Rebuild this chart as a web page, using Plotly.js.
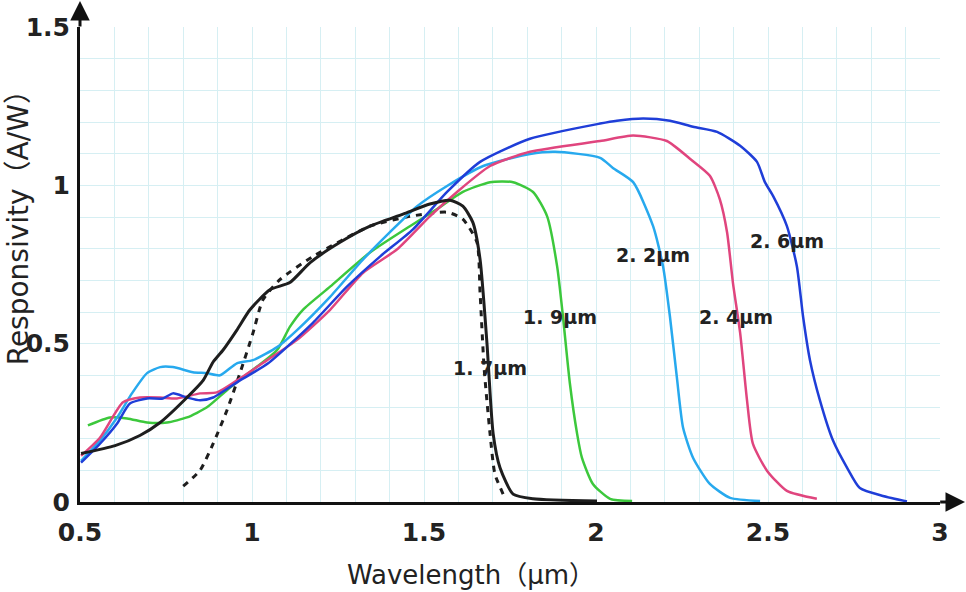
<!DOCTYPE html>
<html>
<head>
<meta charset="utf-8">
<script src="https://cdn.plot.ly/plotly-3.0.1.min.js"></script>
<style>
  html, body { margin: 0; padding: 0; background: #fff; }
  #chart { width: 966px; height: 592px; }
</style>
</head>
<body>
<div id="chart"></div>
<script>
// wavelength (um) / responsivity (A/W)

// 1.7 um cutoff, solid
const x17 = [0.503, 0.602, 0.674, 0.733, 0.811, 0.858, 0.887, 0.916, 0.956, 0.994,
             1.052, 1.110, 1.169, 1.256, 1.343, 1.439, 1.517, 1.576, 1.613, 1.642,
             1.663, 1.683, 1.701, 1.721, 1.759, 1.817, 2.003];
const y17 = [0.153, 0.178, 0.210, 0.251, 0.330, 0.384, 0.442, 0.480, 0.543, 0.607,
             0.670, 0.693, 0.756, 0.820, 0.871, 0.909, 0.941, 0.953, 0.934, 0.883,
             0.766, 0.502, 0.216, 0.108, 0.025, 0.010, 0.003];

// 1.7 um, dotted
const x17d = [0.800, 0.849, 0.887, 0.927, 0.965, 1.003, 1.032, 1.081, 1.177, 1.343,
              1.459, 1.567, 1.613, 1.654, 1.663, 1.675, 1.692, 1.706, 1.730];
const y17d = [0.050, 0.100, 0.184, 0.289, 0.407, 0.534, 0.639, 0.702, 0.775, 0.871,
              0.902, 0.915, 0.893, 0.820, 0.661, 0.420, 0.216, 0.089, 0.025];

// 1.9 um
const x19 = [0.523, 0.587, 0.637, 0.695, 0.753, 0.811, 0.869, 0.927, 0.974, 1.073,
             1.110, 1.148, 1.227, 1.343, 1.459, 1.538, 1.613, 1.692, 1.759, 1.817,
             1.858, 1.887, 1.904, 1.924, 1.945, 1.959, 1.991, 2.041, 2.105];
const y19 = [0.242, 0.267, 0.264, 0.251, 0.251, 0.267, 0.299, 0.353, 0.394, 0.480,
             0.553, 0.607, 0.680, 0.788, 0.871, 0.925, 0.979, 1.010, 1.010, 0.979,
             0.902, 0.744, 0.585, 0.375, 0.216, 0.140, 0.057, 0.010, 0.003];

// 2.2 um
const x22 = [0.503, 0.558, 0.608, 0.651, 0.695, 0.733, 0.770, 0.828, 0.869, 0.907,
             0.956, 1.003, 1.073, 1.131, 1.227, 1.323, 1.401, 1.480, 1.567, 1.672,
             1.808, 1.881, 2.012, 2.049, 2.108, 2.166, 2.195, 2.215, 2.235, 2.253,
             2.282, 2.331, 2.390, 2.477];
const y22 = [0.130, 0.194, 0.267, 0.343, 0.407, 0.426, 0.426, 0.410, 0.407, 0.400,
             0.438, 0.448, 0.489, 0.543, 0.648, 0.766, 0.852, 0.934, 0.998, 1.061,
             1.099, 1.106, 1.087, 1.055, 1.010, 0.871, 0.744, 0.585, 0.394, 0.235,
             0.140, 0.057, 0.013, 0.003];

// 2.4 um
const x24 = [0.503, 0.558, 0.625, 0.674, 0.733, 0.782, 0.849, 0.898, 0.956, 1.044,
             1.131, 1.227, 1.323, 1.422, 1.517, 1.596, 1.692, 1.808, 2.012, 2.108,
             2.206, 2.273, 2.331, 2.360, 2.381, 2.398, 2.419, 2.439, 2.456, 2.497,
             2.555, 2.642];
const y24 = [0.146, 0.203, 0.315, 0.330, 0.330, 0.327, 0.343, 0.346, 0.384, 0.448,
             0.512, 0.607, 0.724, 0.798, 0.902, 0.979, 1.061, 1.106, 1.140, 1.157,
             1.140, 1.084, 1.030, 0.956, 0.852, 0.693, 0.534, 0.321, 0.184, 0.099,
             0.035, 0.010];

// 2.6 um
const x26 = [0.503, 0.558, 0.608, 0.645, 0.695, 0.741, 0.770, 0.811, 0.849, 0.887,
             0.965, 1.046, 1.177, 1.276, 1.372, 1.468, 1.567, 1.663, 1.808, 2.012,
             2.061, 2.137, 2.215, 2.282, 2.352, 2.419, 2.468, 2.491, 2.515, 2.555,
             2.584, 2.602, 2.622, 2.651, 2.689, 2.730, 2.767, 2.834, 2.904];
const y26 = [0.124, 0.184, 0.248, 0.311, 0.327, 0.327, 0.343, 0.330, 0.321, 0.330,
             0.384, 0.437, 0.566, 0.680, 0.775, 0.861, 0.979, 1.074, 1.147, 1.195,
             1.204, 1.211, 1.204, 1.185, 1.169, 1.125, 1.074, 1.010, 0.966, 0.871,
             0.744, 0.585, 0.448, 0.321, 0.194, 0.108, 0.044, 0.019, 0.002];

const xTicks = [0.5, 1, 1.5, 2, 2.5, 3];
const xTickText = ["0.5", "1", "1.5", "2", "2.5", "3"];
const yTicks = [0, 0.5, 1, 1.5];
const yTickText = ["0", "0.5", "1", "1.5"];

const cutoffLabels = ["1. 7μm", "1. 9μm", "2. 2μm", "2. 4μm", "2. 6μm"];
const xTitle = "Wavelength（μm）";
const yTitle = "Responsivity（A/W）";

const sans = "DejaVu Sans, Noto Sans CJK SC, sans-serif";
const gridCol = "#d6eff3";
const ink = "#1e1e1e";

function curve(x, y, color, width, dash) {
    return {
        x: x,
        y: y,
        mode: "lines",
        line: {
            color: color,
            width: width,
            dash: dash || "solid",
            shape: "spline",
            smoothing: 0.6
        },
        hoverinfo: "skip",
        showlegend: false
    };
}

const traces = [
    curve(x17d, y17d, ink, 3, "6px,6px"),
    curve(x19, y19, "#3cc83c", 2.5),
    curve(x22, y22, "#27a9ee", 2.5),
    curve(x24, y24, "#e0457e", 2.5),
    curve(x26, y26, "#1f3ed8", 2.5),
    curve(x17, y17, ink, 3)
];

// label spots for the cutoff wavelengths
const labelPos = [
    [1.692, 0.423],
    [1.895, 0.583],
    [2.167, 0.779],
    [2.407, 0.583],
    [2.555, 0.823]
];

const annotations = cutoffLabels.map((t, i) => ({
    x: labelPos[i][0],
    y: labelPos[i][1],
    xref: "x",
    yref: "y",
    text: t,
    showarrow: false,
    font: { family: sans, size: 19, color: "#222", weight: "bold" }
}));

// axis titles, placed by hand like the original
annotations.push({
    x: 0.455, y: -0.154, xref: "paper", yref: "paper",
    text: xTitle, showarrow: false,
    xanchor: "center", yanchor: "middle",
    font: { family: sans, size: 26, color: "#222" }
});
annotations.push({
    x: -0.0715, y: 0.592, xref: "paper", yref: "paper",
    text: yTitle, showarrow: false, textangle: -90,
    xanchor: "center", yanchor: "middle",
    font: { family: sans, size: 28, color: "#222" }
});

// axis arrows
annotations.push({
    x: 1.031, y: 0, xref: "paper", yref: "paper",
    ax: -28, ay: 0, axref: "pixel", ayref: "pixel",
    showarrow: true, arrowhead: 2, arrowsize: 1.3, arrowwidth: 3,
    arrowcolor: "#111", text: ""
});
annotations.push({
    x: 0, y: 1.057, xref: "paper", yref: "paper",
    ax: 0, ay: 28, axref: "pixel", ayref: "pixel",
    showarrow: true, arrowhead: 2, arrowsize: 1.3, arrowwidth: 3,
    arrowcolor: "#111", text: ""
});

const tickFont = { family: "DejaVu Sans, sans-serif", size: 25, color: "#222", weight: "bold" };

const layout = {
    width: 966,
    height: 592,
    margin: { l: 80, r: 26, t: 27, b: 90, pad: 0 },
    paper_bgcolor: "#fff",
    plot_bgcolor: "#fff",
    showlegend: false,
    xaxis: {
        range: [0.5, 3],
        tickmode: "array",
        tickvals: xTicks,
        ticktext: xTickText,
        ticks: "",
        showline: true,
        linecolor: "#111",
        linewidth: 3,
        zeroline: false,
        showgrid: true,
        gridcolor: gridCol,
        gridwidth: 1,
        minor: { tick0: 0, dtick: 0.1, showgrid: true, gridcolor: gridCol, gridwidth: 1 },
        tickfont: tickFont,
        ticklabelstandoff: 6
    },
    yaxis: {
        range: [0, 1.5],
        tickmode: "array",
        tickvals: yTicks,
        ticktext: yTickText,
        ticks: "",
        showline: true,
        linecolor: "#111",
        linewidth: 3,
        zeroline: false,
        showgrid: true,
        gridcolor: gridCol,
        gridwidth: 1,
        minor: { tick0: 0, dtick: 0.1, showgrid: true, gridcolor: gridCol, gridwidth: 1 },
        tickfont: tickFont,
        ticklabelstandoff: 2
    },
    annotations: annotations
};

Plotly.newPlot("chart", traces, layout, { displayModeBar: false, staticPlot: true });
</script>
</body>
</html>
